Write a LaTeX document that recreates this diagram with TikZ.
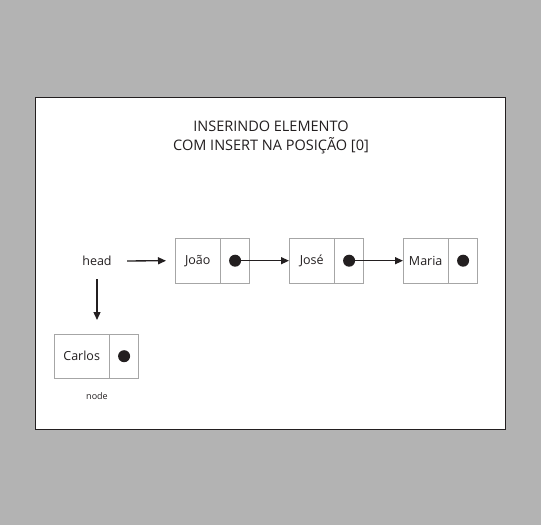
\documentclass[tikz,border=0pt]{standalone}
\usepackage{fontspec}
\setmainfont{Open Sans}
\usetikzlibrary{positioning,arrows.meta}
\definecolor{fundo}{HTML}{B3B3B3}
\definecolor{tinta}{HTML}{231F20}
\definecolor{borda}{HTML}{A6A6A6}
\begin{document}
\begin{tikzpicture}[x=1pt,y=-1pt,
	dado/.style={draw=borda, minimum width=45pt, minimum height=45pt, inner sep=0pt, text=tinta, font=\fontsize{12.5}{12.5}\selectfont},
	ponteiro/.style={draw=borda, minimum width=29pt, minimum height=45pt, inner sep=0pt},
	ponto/.style={circle, fill=tinta, minimum size=12pt, inner sep=0pt},
	seta/.style={draw=tinta, line width=1.3pt, -{Triangle[length=8pt,width=7pt]}}]
				\fill[fundo] (0,0) rectangle (541,525);
				\draw[tinta, fill=white] (35,97) rectangle (505,429);
				%
				\node[text=tinta, align=center, font=\fontsize{14.5}{19}\selectfont] (titulo) at (271,137)
					{INSERINDO ELEMENTO\\COM INSERT NA POSIÇÃO [0]};
				%
				\node[dado, anchor=north west] (joao) at (175,238) {João};
				\node[dado, anchor=north west] (jose) at (289,238) {José};
				\node[dado, anchor=north west] (maria) at (403,238) {Maria};
				\node[dado, anchor=north west, minimum width=55pt, minimum height=44pt] (carlos) at (54,334) {Carlos};
				%
				\foreach \n in {joao,jose,maria}{
						\node[ponteiro, right=0pt of \n] (p\n) {};
						\node[ponto] (d\n) at (p\n.center) {};
					}
				\node[ponteiro, minimum height=44pt, right=0pt of carlos] (pcarlos) {};
				\node[ponto] (dcarlos) at (pcarlos.center) {};
				%
				\node[text=tinta, font=\fontsize{12.5}{12.5}\selectfont] (head) at (97,261) {head};
				\node[text=tinta, font=\fontsize{9}{9}\selectfont] (rotulo) at (97,396) {node};
				%
				\draw[seta, shorten <=12pt, shorten >=9pt] (head.east) -- (joao.west);
				\draw[seta] (djoao.center) -- (jose.west);
				\draw[seta] (djose.center) -- (maria.west);
				\draw[seta, shorten <=10pt, shorten >=14pt] (head.south) -- (head.south |- carlos.north);
			\end{tikzpicture}
\end{document}
